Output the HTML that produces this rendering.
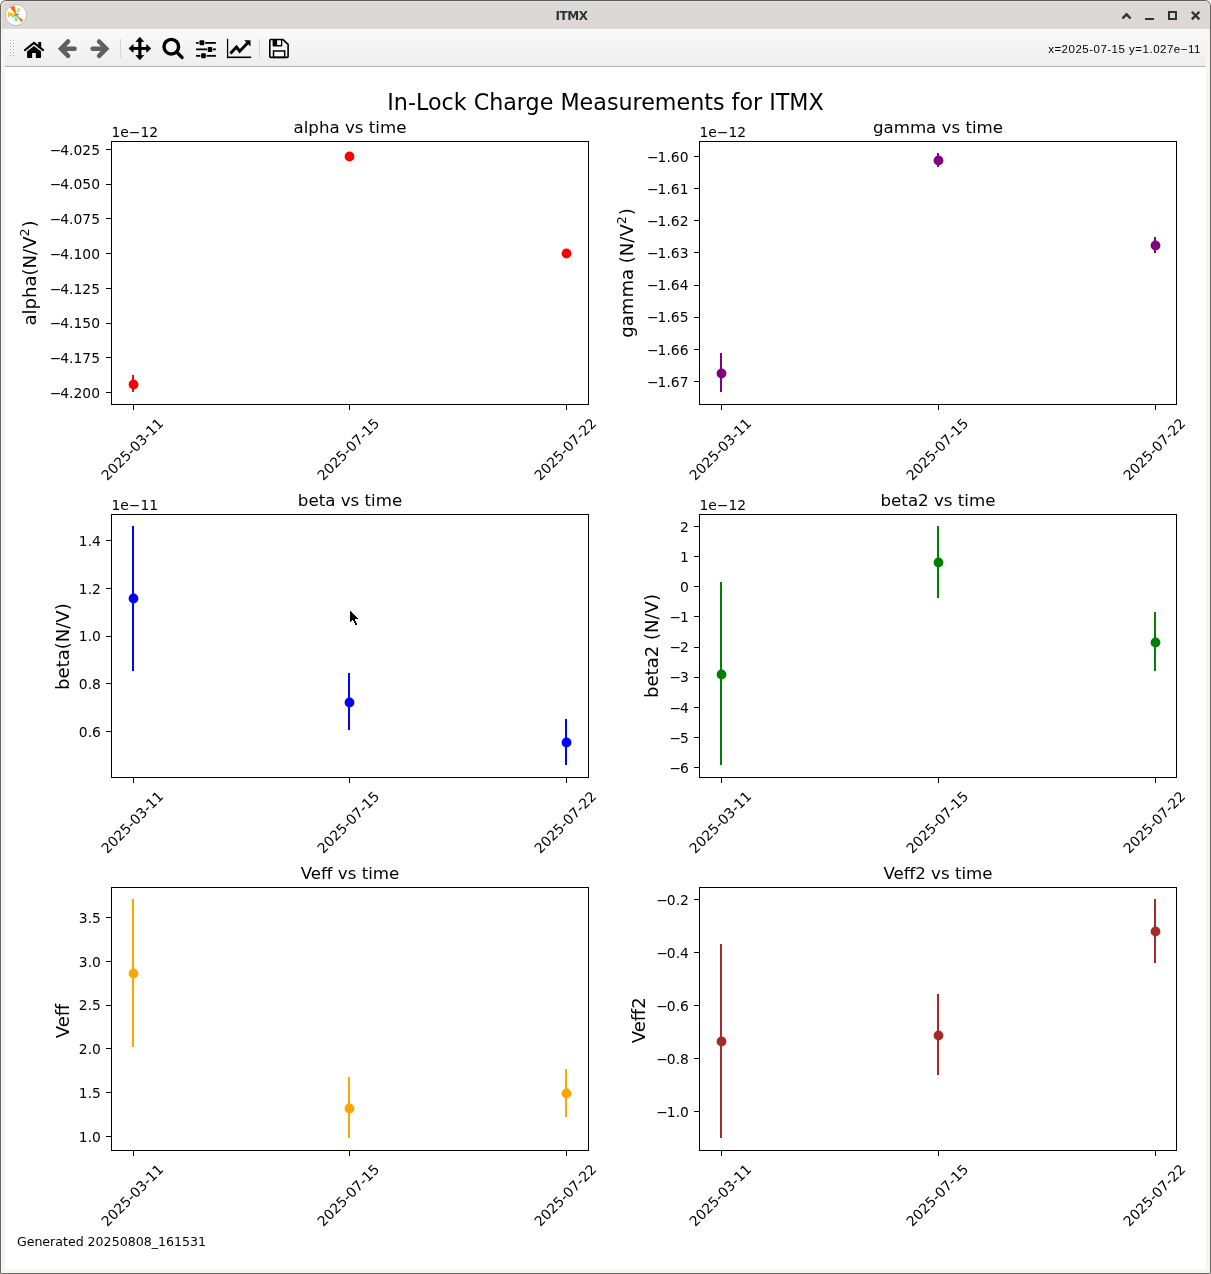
<!DOCTYPE html>
<html><head><meta charset="utf-8"><title>ITMX</title>
<style>
html,body{margin:0;padding:0;background:#fff;}
body{width:1211px;height:1274px;position:relative;overflow:hidden;font-family:"DejaVu Sans", "Liberation Sans", sans-serif;}
#win{position:absolute;left:0;top:0;width:1209px;height:1272px;border:1px solid #656462;border-color:#5e5d5b #656462 #6b6b69 #656462;border-radius:6px 6px 1.5px 1.5px;background:#f6f5f4;overflow:hidden;}
#tb{position:absolute;left:0;top:0;width:100%;height:28px;background:#dbd8d5;box-shadow:inset 1px 1px 0 rgba(255,255,255,0.3);border-radius:5px 5px 0 0;}
#ttl{position:absolute;left:0;top:0;width:1141px;text-align:center;line-height:31px;font-size:12px;font-weight:bold;color:#2e3436;letter-spacing:-0.5px;}
#bar{position:absolute;left:4px;top:28px;width:1201px;height:37px;background:linear-gradient(#fafafa,#eeeeee);border-bottom:1px solid #b4b4b4;}
#cv{position:absolute;left:4px;top:66px;width:1201px;height:1202px;background:#fff;}
#coord{position:absolute;right:10.1px;top:42.4px;font-family:"Liberation Sans","DejaVu Sans",sans-serif;font-size:11.5px;letter-spacing:0.5px;color:#000;white-space:nowrap;line-height:14px;}
</style></head><body>
<div id="win">
<div id="tb"></div><div id="ttl">ITMX</div>
<div id="bar"></div>
<div id="cv"></div>
</div>
<div id="coord">x=2025-07-15 y=1.027e−11</div>
<svg width="1211" height="70" viewBox="0 0 1211 70" style="position:absolute;left:0;top:0">
<!-- app icon -->
<g>
<circle cx="16.05" cy="15" r="10.6" fill="#fff" stroke="#b9b7b5" stroke-width="0.9"/>
<path d="M16.1,14.7 L10.3,7.4 L14.2,5.9 Z" fill="#ff6600" stroke="#e0701c" stroke-width="0.5" stroke-linejoin="round"/>
<path d="M16.1,14.7 L8.0,12.0 L8.0,16.7 Z" fill="#ffc800" stroke="#e0b41c" stroke-width="0.5" stroke-linejoin="round"/>
<path d="M16.1,14.7 L18.3,8.2 L20.2,9.2 Z" fill="#b4ee2c" stroke="#a4d040" stroke-width="0.4" stroke-linejoin="round"/>
<path d="M16.1,14.7 L14.7,20.7 L17.0,20.7 Z" fill="#6ee070" stroke="#70cc74" stroke-width="0.4" stroke-linejoin="round"/>
<path d="M16.1,14.7 L21.2,21.8 L23.1,20.6 Z" fill="#ff6600" stroke="#e0701c" stroke-width="0.4" stroke-linejoin="round"/>
<path d="M16.1,14.7 L12.0,16.8 L12.7,17.8 Z" fill="#4fc4b4" stroke="#4fc4b4" stroke-width="0.4" stroke-linejoin="round"/>
<path d="M16.1,14.7 L18.8,14.0 L18.8,14.9 Z" fill="#5f6fc4" stroke="#5f6fc4" stroke-width="0.4" stroke-linejoin="round"/><circle cx="16.1" cy="14.8" r="0.9" fill="#6f7040" opacity="0.75"/>
</g>
<!-- window controls -->
<g fill="none" stroke="#2e3436" stroke-width="2">
<path d="M1122.4,18.5 L1126.5,14.3 L1130.6,18.5" stroke-width="2.4"/>
<path d="M1145,19 H1154"/>
<rect x="1169" y="12" width="7" height="7"/>
<path d="M1191.8,11.8 L1199.4,19.4 M1199.4,11.8 L1191.8,19.4" stroke-width="2.3"/>
</g>
<!-- toolbar handle dots -->
<g fill="#b0b0b0">
<rect x="10" y="40" width="1" height="1"/><rect x="13" y="40" width="1" height="1"/><rect x="10" y="43" width="1" height="1"/><rect x="13" y="43" width="1" height="1"/><rect x="10" y="46" width="1" height="1"/><rect x="13" y="46" width="1" height="1"/><rect x="10" y="49" width="1" height="1"/><rect x="13" y="49" width="1" height="1"/><rect x="10" y="52" width="1" height="1"/><rect x="13" y="52" width="1" height="1"/><rect x="10" y="55" width="1" height="1"/><rect x="13" y="55" width="1" height="1"/>
</g>
<!-- home -->
<g fill="#000">
<path d="M24.9,50.1 L34,42.9 L43.1,50.1" fill="none" stroke="#000" stroke-width="2" stroke-linecap="round" stroke-linejoin="miter"/>
<rect x="38.2" y="42" width="3" height="6"/>
<path d="M34,45.9 L41.05,51.4 V57.3 a0.6,0.6 0 0 1 -0.6,0.6 H35.85 V53.1 H32.15 V57.9 H27.66 a0.6,0.6 0 0 1 -0.6,-0.6 V51.4 Z"/>
</g>
<!-- back / forward -->
<g fill="none" stroke="#5f5f5f" stroke-width="4.5" stroke-linecap="round" stroke-linejoin="miter">
<path d="M68.1,41.5 L61,48.65 L68.1,55.8"/>
<path d="M62,48.65 H74.6"/>
<path d="M99.1,41.5 L106.2,48.65 L99.1,55.8"/>
<path d="M105.2,48.65 H92.6"/>
</g>
<!-- separators -->
<rect x="120" y="39" width="1" height="19" fill="#d4d4d4"/>
<rect x="259" y="39" width="1" height="19" fill="#d4d4d4"/>
<!-- move -->
<g fill="#000" stroke="#000" stroke-width="0.8" stroke-linejoin="round">
<rect x="138.3" y="40" width="3.1" height="17" stroke="none"/>
<rect x="131" y="47" width="18" height="2.9" stroke="none"/>
<path d="M139.86,37.3 L143.6,41.5 H136.1 Z"/>
<path d="M139.86,59.7 L143.6,55.5 H136.1 Z"/>
<path d="M128.9,48.45 L133.1,44.7 V52.2 Z"/>
<path d="M150.9,48.45 L146.7,44.7 V52.2 Z"/>
</g>
<!-- zoom -->
<g fill="none" stroke="#000">
<circle cx="171.3" cy="46.7" r="7.3" stroke-width="3.4"/>
<path d="M176.6,52 L182.1,57.5" stroke-width="3.2" stroke-linecap="round"/>
</g>
<!-- sliders -->
<g fill="#000">
<rect x="196.1" y="42" width="2.6" height="1.8"/><rect x="205.1" y="42" width="10.8" height="1.8"/>
<rect x="199.5" y="40.35" width="4.8" height="5" rx="1"/>
<rect x="196.1" y="48.45" width="10.8" height="1.8"/><rect x="213" y="48.45" width="2.9" height="1.8"/>
<rect x="207.7" y="46.95" width="4.6" height="5" rx="1"/>
<rect x="196.1" y="54.95" width="4.2" height="1.8"/><rect x="206.7" y="54.95" width="9.2" height="1.8"/>
<rect x="201.1" y="53.3" width="4.8" height="5" rx="1"/>
</g>
<!-- chart -->
<g fill="#000">
<rect x="226.95" y="38.8" width="1.25" height="19.3"/>
<rect x="226.9" y="56.5" width="24.2" height="1.6"/>
<path d="M230.4,53.5 L236.5,47 L239.7,51.2 L247.6,43" fill="none" stroke="#000" stroke-width="2.9" stroke-linejoin="miter"/>
<path d="M244.2,40.3 H250.5 V46.4 Z"/>
</g>
<!-- save -->
<g>
<path d="M270.7,39.55 H283 L288.1,44.4 V56.5 a0.9,0.9 0 0 1 -0.9,0.9 H270.7 a0.9,0.9 0 0 1 -0.9,-0.9 V40.45 a0.9,0.9 0 0 1 0.9,-0.9 Z" fill="#f6f6f6" stroke="#000" stroke-width="1.6" stroke-linejoin="round"/>
<path d="M272.6,39.4 H282.3 V45.8 a0.8,0.8 0 0 1 -0.8,0.8 H273.4 a0.8,0.8 0 0 1 -0.8,-0.8 Z" fill="#000"/>
<rect x="277.1" y="40.2" width="3.9" height="4.9" rx="0.5" fill="#f6f6f6"/>
<rect x="273.5" y="51" width="11.2" height="6.4" fill="none" stroke="#000" stroke-width="1.5"/>
</g>
</svg>

<svg width="1211" height="1274" viewBox="0 0 1211 1274" style="position:absolute;left:0;top:0" font-family='"DejaVu Sans", "Liberation Sans", sans-serif' fill="#000">
<text x="605.5" y="109.6" font-size="22.222" text-anchor="middle">In-Lock Charge Measurements for ITMX</text>
<rect x="132.0" y="375" width="2" height="17" fill="#ff0000" shape-rendering="crispEdges"/>
<circle cx="133.5" cy="384.5" r="4.9" fill="#ff0000"/>
<circle cx="349.5" cy="156.5" r="4.9" fill="#ff0000"/>
<circle cx="566.5" cy="253.5" r="4.9" fill="#ff0000"/>
<rect x="111.5" y="141.5" width="477.0" height="263.0" fill="none" stroke="#000" stroke-width="1" shape-rendering="crispEdges"/>
<line x1="133.5" y1="404.5" x2="133.5" y2="409.8" stroke="#000" stroke-width="1" shape-rendering="crispEdges"/>
<text transform="translate(132.2,449.1) rotate(-45)" x="0" y="5.06" font-size="13.889" text-anchor="middle">2025-03-11</text>
<line x1="349.5" y1="404.5" x2="349.5" y2="409.8" stroke="#000" stroke-width="1" shape-rendering="crispEdges"/>
<text transform="translate(348.2,449.1) rotate(-45)" x="0" y="5.06" font-size="13.889" text-anchor="middle">2025-07-15</text>
<line x1="566.5" y1="404.5" x2="566.5" y2="409.8" stroke="#000" stroke-width="1" shape-rendering="crispEdges"/>
<text transform="translate(565.2,449.1) rotate(-45)" x="0" y="5.06" font-size="13.889" text-anchor="middle">2025-07-22</text>
<line x1="106.0" y1="149.5" x2="111.5" y2="149.5" stroke="#000" stroke-width="1" shape-rendering="crispEdges"/>
<text x="100" y="154.78" font-size="13.889" text-anchor="end">−<tspan dx="-1.15">4.025</tspan></text>
<line x1="106.0" y1="184.5" x2="111.5" y2="184.5" stroke="#000" stroke-width="1" shape-rendering="crispEdges"/>
<text x="100" y="189.49" font-size="13.889" text-anchor="end">−<tspan dx="-1.15">4.050</tspan></text>
<line x1="106.0" y1="218.5" x2="111.5" y2="218.5" stroke="#000" stroke-width="1" shape-rendering="crispEdges"/>
<text x="100" y="224.21" font-size="13.889" text-anchor="end">−<tspan dx="-1.15">4.075</tspan></text>
<line x1="106.0" y1="253.5" x2="111.5" y2="253.5" stroke="#000" stroke-width="1" shape-rendering="crispEdges"/>
<text x="100" y="258.92" font-size="13.889" text-anchor="end">−<tspan dx="-1.15">4.100</tspan></text>
<line x1="106.0" y1="288.5" x2="111.5" y2="288.5" stroke="#000" stroke-width="1" shape-rendering="crispEdges"/>
<text x="100" y="293.64" font-size="13.889" text-anchor="end">−<tspan dx="-1.15">4.125</tspan></text>
<line x1="106.0" y1="323.5" x2="111.5" y2="323.5" stroke="#000" stroke-width="1" shape-rendering="crispEdges"/>
<text x="100" y="328.35" font-size="13.889" text-anchor="end">−<tspan dx="-1.15">4.150</tspan></text>
<line x1="106.0" y1="357.5" x2="111.5" y2="357.5" stroke="#000" stroke-width="1" shape-rendering="crispEdges"/>
<text x="100" y="363.07" font-size="13.889" text-anchor="end">−<tspan dx="-1.15">4.175</tspan></text>
<line x1="106.0" y1="392.5" x2="111.5" y2="392.5" stroke="#000" stroke-width="1" shape-rendering="crispEdges"/>
<text x="100" y="397.78" font-size="13.889" text-anchor="end">−<tspan dx="-1.15">4.200</tspan></text>
<text x="350" y="133.4" font-size="16.667" text-anchor="middle">alpha vs time</text>
<text x="111.5" y="136.8" font-size="13.889">1e−12</text>
<text transform="translate(36.3,273) rotate(-90)" font-size="18.056" text-anchor="middle">alpha(N/V<tspan dy="-7.4" font-size="12.64">2</tspan><tspan dy="7.4" dx="0.9">)</tspan></text>
<rect x="720.0" y="353" width="2" height="39" fill="#800080" shape-rendering="crispEdges"/>
<circle cx="721.5" cy="373.5" r="4.9" fill="#800080"/>
<rect x="937.0" y="153" width="2" height="14" fill="#800080" shape-rendering="crispEdges"/>
<circle cx="938.5" cy="160.5" r="4.9" fill="#800080"/>
<rect x="1154.0" y="237" width="2" height="16" fill="#800080" shape-rendering="crispEdges"/>
<circle cx="1155.5" cy="245.5" r="4.9" fill="#800080"/>
<rect x="699.5" y="141.5" width="477.0" height="263.0" fill="none" stroke="#000" stroke-width="1" shape-rendering="crispEdges"/>
<line x1="721.5" y1="404.5" x2="721.5" y2="409.8" stroke="#000" stroke-width="1" shape-rendering="crispEdges"/>
<text transform="translate(720.2,449.1) rotate(-45)" x="0" y="5.06" font-size="13.889" text-anchor="middle">2025-03-11</text>
<line x1="938.5" y1="404.5" x2="938.5" y2="409.8" stroke="#000" stroke-width="1" shape-rendering="crispEdges"/>
<text transform="translate(937.2,449.1) rotate(-45)" x="0" y="5.06" font-size="13.889" text-anchor="middle">2025-07-15</text>
<line x1="1155.5" y1="404.5" x2="1155.5" y2="409.8" stroke="#000" stroke-width="1" shape-rendering="crispEdges"/>
<text transform="translate(1154.2,449.1) rotate(-45)" x="0" y="5.06" font-size="13.889" text-anchor="middle">2025-07-22</text>
<line x1="694.0" y1="156.5" x2="699.5" y2="156.5" stroke="#000" stroke-width="1" shape-rendering="crispEdges"/>
<text x="688.5" y="161.78" font-size="13.889" text-anchor="end">−<tspan dx="-1.15">1.60</tspan></text>
<line x1="694.0" y1="188.5" x2="699.5" y2="188.5" stroke="#000" stroke-width="1" shape-rendering="crispEdges"/>
<text x="688.5" y="193.92" font-size="13.889" text-anchor="end">−<tspan dx="-1.15">1.61</tspan></text>
<line x1="694.0" y1="220.5" x2="699.5" y2="220.5" stroke="#000" stroke-width="1" shape-rendering="crispEdges"/>
<text x="688.5" y="226.07" font-size="13.889" text-anchor="end">−<tspan dx="-1.15">1.62</tspan></text>
<line x1="694.0" y1="252.5" x2="699.5" y2="252.5" stroke="#000" stroke-width="1" shape-rendering="crispEdges"/>
<text x="688.5" y="258.21" font-size="13.889" text-anchor="end">−<tspan dx="-1.15">1.63</tspan></text>
<line x1="694.0" y1="285.5" x2="699.5" y2="285.5" stroke="#000" stroke-width="1" shape-rendering="crispEdges"/>
<text x="688.5" y="290.35" font-size="13.889" text-anchor="end">−<tspan dx="-1.15">1.64</tspan></text>
<line x1="694.0" y1="317.5" x2="699.5" y2="317.5" stroke="#000" stroke-width="1" shape-rendering="crispEdges"/>
<text x="688.5" y="322.49" font-size="13.889" text-anchor="end">−<tspan dx="-1.15">1.65</tspan></text>
<line x1="694.0" y1="349.5" x2="699.5" y2="349.5" stroke="#000" stroke-width="1" shape-rendering="crispEdges"/>
<text x="688.5" y="354.64" font-size="13.889" text-anchor="end">−<tspan dx="-1.15">1.66</tspan></text>
<line x1="694.0" y1="381.5" x2="699.5" y2="381.5" stroke="#000" stroke-width="1" shape-rendering="crispEdges"/>
<text x="688.5" y="386.78" font-size="13.889" text-anchor="end">−<tspan dx="-1.15">1.67</tspan></text>
<text x="938" y="133.4" font-size="16.667" text-anchor="middle">gamma vs time</text>
<text x="699.5" y="136.8" font-size="13.889">1e−12</text>
<text transform="translate(632.9,273) rotate(-90)" font-size="18.056" text-anchor="middle">gamma (N/V<tspan dy="-7.4" font-size="12.64">2</tspan><tspan dy="7.4" dx="0.9">)</tspan></text>
<rect x="132.0" y="526" width="2" height="145" fill="#0000ff" shape-rendering="crispEdges"/>
<circle cx="133.5" cy="598.5" r="4.9" fill="#0000ff"/>
<rect x="348.0" y="673" width="2" height="57" fill="#0000ff" shape-rendering="crispEdges"/>
<circle cx="349.5" cy="702.5" r="4.9" fill="#0000ff"/>
<rect x="565.0" y="719" width="2" height="46" fill="#0000ff" shape-rendering="crispEdges"/>
<circle cx="566.5" cy="742.5" r="4.9" fill="#0000ff"/>
<rect x="111.5" y="514.5" width="477.0" height="263.0" fill="none" stroke="#000" stroke-width="1" shape-rendering="crispEdges"/>
<line x1="133.5" y1="777.5" x2="133.5" y2="782.8" stroke="#000" stroke-width="1" shape-rendering="crispEdges"/>
<text transform="translate(132.2,822.1) rotate(-45)" x="0" y="5.06" font-size="13.889" text-anchor="middle">2025-03-11</text>
<line x1="349.5" y1="777.5" x2="349.5" y2="782.8" stroke="#000" stroke-width="1" shape-rendering="crispEdges"/>
<text transform="translate(348.2,822.1) rotate(-45)" x="0" y="5.06" font-size="13.889" text-anchor="middle">2025-07-15</text>
<line x1="566.5" y1="777.5" x2="566.5" y2="782.8" stroke="#000" stroke-width="1" shape-rendering="crispEdges"/>
<text transform="translate(565.2,822.1) rotate(-45)" x="0" y="5.06" font-size="13.889" text-anchor="middle">2025-07-22</text>
<line x1="106.0" y1="540.5" x2="111.5" y2="540.5" stroke="#000" stroke-width="1" shape-rendering="crispEdges"/>
<text x="100.9" y="545.78" font-size="13.889" text-anchor="end">1.4</text>
<line x1="106.0" y1="588.5" x2="111.5" y2="588.5" stroke="#000" stroke-width="1" shape-rendering="crispEdges"/>
<text x="100.9" y="593.53" font-size="13.889" text-anchor="end">1.2</text>
<line x1="106.0" y1="636.5" x2="111.5" y2="636.5" stroke="#000" stroke-width="1" shape-rendering="crispEdges"/>
<text x="100.9" y="641.28" font-size="13.889" text-anchor="end">1.0</text>
<line x1="106.0" y1="683.5" x2="111.5" y2="683.5" stroke="#000" stroke-width="1" shape-rendering="crispEdges"/>
<text x="100.9" y="689.03" font-size="13.889" text-anchor="end">0.8</text>
<line x1="106.0" y1="731.5" x2="111.5" y2="731.5" stroke="#000" stroke-width="1" shape-rendering="crispEdges"/>
<text x="100.9" y="736.78" font-size="13.889" text-anchor="end">0.6</text>
<text x="350" y="506.4" font-size="16.667" text-anchor="middle">beta vs time</text>
<text x="111.5" y="509.8" font-size="13.889">1e−11</text>
<text transform="translate(68.9,646.6) rotate(-90)" font-size="18.056" text-anchor="middle">beta(N/V)</text>
<rect x="720.0" y="582" width="2" height="183" fill="#008000" shape-rendering="crispEdges"/>
<circle cx="721.5" cy="674.5" r="4.9" fill="#008000"/>
<rect x="937.0" y="526" width="2" height="72" fill="#008000" shape-rendering="crispEdges"/>
<circle cx="938.5" cy="562.5" r="4.9" fill="#008000"/>
<rect x="1154.0" y="612" width="2" height="59" fill="#008000" shape-rendering="crispEdges"/>
<circle cx="1155.5" cy="642.5" r="4.9" fill="#008000"/>
<rect x="699.5" y="514.5" width="477.0" height="263.0" fill="none" stroke="#000" stroke-width="1" shape-rendering="crispEdges"/>
<line x1="721.5" y1="777.5" x2="721.5" y2="782.8" stroke="#000" stroke-width="1" shape-rendering="crispEdges"/>
<text transform="translate(720.2,822.1) rotate(-45)" x="0" y="5.06" font-size="13.889" text-anchor="middle">2025-03-11</text>
<line x1="938.5" y1="777.5" x2="938.5" y2="782.8" stroke="#000" stroke-width="1" shape-rendering="crispEdges"/>
<text transform="translate(937.2,822.1) rotate(-45)" x="0" y="5.06" font-size="13.889" text-anchor="middle">2025-07-15</text>
<line x1="1155.5" y1="777.5" x2="1155.5" y2="782.8" stroke="#000" stroke-width="1" shape-rendering="crispEdges"/>
<text transform="translate(1154.2,822.1) rotate(-45)" x="0" y="5.06" font-size="13.889" text-anchor="middle">2025-07-22</text>
<line x1="694.0" y1="526.5" x2="699.5" y2="526.5" stroke="#000" stroke-width="1" shape-rendering="crispEdges"/>
<text x="688.9" y="531.78" font-size="13.889" text-anchor="end">2</text>
<line x1="694.0" y1="556.5" x2="699.5" y2="556.5" stroke="#000" stroke-width="1" shape-rendering="crispEdges"/>
<text x="688.9" y="561.9" font-size="13.889" text-anchor="end">1</text>
<line x1="694.0" y1="586.5" x2="699.5" y2="586.5" stroke="#000" stroke-width="1" shape-rendering="crispEdges"/>
<text x="688.9" y="592.03" font-size="13.889" text-anchor="end">0</text>
<line x1="694.0" y1="616.5" x2="699.5" y2="616.5" stroke="#000" stroke-width="1" shape-rendering="crispEdges"/>
<text x="688.9" y="622.15" font-size="13.889" text-anchor="end">−<tspan dx="-1.15">1</tspan></text>
<line x1="694.0" y1="647.5" x2="699.5" y2="647.5" stroke="#000" stroke-width="1" shape-rendering="crispEdges"/>
<text x="688.9" y="652.28" font-size="13.889" text-anchor="end">−<tspan dx="-1.15">2</tspan></text>
<line x1="694.0" y1="677.5" x2="699.5" y2="677.5" stroke="#000" stroke-width="1" shape-rendering="crispEdges"/>
<text x="688.9" y="682.4" font-size="13.889" text-anchor="end">−<tspan dx="-1.15">3</tspan></text>
<line x1="694.0" y1="707.5" x2="699.5" y2="707.5" stroke="#000" stroke-width="1" shape-rendering="crispEdges"/>
<text x="688.9" y="712.53" font-size="13.889" text-anchor="end">−<tspan dx="-1.15">4</tspan></text>
<line x1="694.0" y1="737.5" x2="699.5" y2="737.5" stroke="#000" stroke-width="1" shape-rendering="crispEdges"/>
<text x="688.9" y="742.65" font-size="13.889" text-anchor="end">−<tspan dx="-1.15">5</tspan></text>
<line x1="694.0" y1="767.5" x2="699.5" y2="767.5" stroke="#000" stroke-width="1" shape-rendering="crispEdges"/>
<text x="688.9" y="772.78" font-size="13.889" text-anchor="end">−<tspan dx="-1.15">6</tspan></text>
<text x="938" y="506.4" font-size="16.667" text-anchor="middle">beta2 vs time</text>
<text x="699.5" y="509.8" font-size="13.889">1e−12</text>
<text transform="translate(658.1,646) rotate(-90)" font-size="18.056" text-anchor="middle">beta2 (N/V)</text>
<rect x="132.0" y="899" width="2" height="148" fill="#ffa500" shape-rendering="crispEdges"/>
<circle cx="133.5" cy="973.5" r="4.9" fill="#ffa500"/>
<rect x="348.0" y="1077" width="2" height="61" fill="#ffa500" shape-rendering="crispEdges"/>
<circle cx="349.5" cy="1108.5" r="4.9" fill="#ffa500"/>
<rect x="565.0" y="1069" width="2" height="48" fill="#ffa500" shape-rendering="crispEdges"/>
<circle cx="566.5" cy="1093.5" r="4.9" fill="#ffa500"/>
<rect x="111.5" y="887.5" width="477.0" height="263.0" fill="none" stroke="#000" stroke-width="1" shape-rendering="crispEdges"/>
<line x1="133.5" y1="1150.5" x2="133.5" y2="1155.8" stroke="#000" stroke-width="1" shape-rendering="crispEdges"/>
<text transform="translate(132.2,1195.1) rotate(-45)" x="0" y="5.06" font-size="13.889" text-anchor="middle">2025-03-11</text>
<line x1="349.5" y1="1150.5" x2="349.5" y2="1155.8" stroke="#000" stroke-width="1" shape-rendering="crispEdges"/>
<text transform="translate(348.2,1195.1) rotate(-45)" x="0" y="5.06" font-size="13.889" text-anchor="middle">2025-07-15</text>
<line x1="566.5" y1="1150.5" x2="566.5" y2="1155.8" stroke="#000" stroke-width="1" shape-rendering="crispEdges"/>
<text transform="translate(565.2,1195.1) rotate(-45)" x="0" y="5.06" font-size="13.889" text-anchor="middle">2025-07-22</text>
<line x1="106.0" y1="917.5" x2="111.5" y2="917.5" stroke="#000" stroke-width="1" shape-rendering="crispEdges"/>
<text x="100.9" y="922.78" font-size="13.889" text-anchor="end">3.5</text>
<line x1="106.0" y1="961.5" x2="111.5" y2="961.5" stroke="#000" stroke-width="1" shape-rendering="crispEdges"/>
<text x="100.9" y="966.58" font-size="13.889" text-anchor="end">3.0</text>
<line x1="106.0" y1="1005.5" x2="111.5" y2="1005.5" stroke="#000" stroke-width="1" shape-rendering="crispEdges"/>
<text x="100.9" y="1010.38" font-size="13.889" text-anchor="end">2.5</text>
<line x1="106.0" y1="1048.5" x2="111.5" y2="1048.5" stroke="#000" stroke-width="1" shape-rendering="crispEdges"/>
<text x="100.9" y="1054.18" font-size="13.889" text-anchor="end">2.0</text>
<line x1="106.0" y1="1092.5" x2="111.5" y2="1092.5" stroke="#000" stroke-width="1" shape-rendering="crispEdges"/>
<text x="100.9" y="1097.98" font-size="13.889" text-anchor="end">1.5</text>
<line x1="106.0" y1="1136.5" x2="111.5" y2="1136.5" stroke="#000" stroke-width="1" shape-rendering="crispEdges"/>
<text x="100.9" y="1141.78" font-size="13.889" text-anchor="end">1.0</text>
<text x="350" y="879.4" font-size="16.667" text-anchor="middle">Veff vs time</text>
<text transform="translate(69,1021) rotate(-90)" font-size="18.056" text-anchor="middle">Veff</text>
<rect x="720.0" y="944" width="2" height="194" fill="#a52a2a" shape-rendering="crispEdges"/>
<circle cx="721.5" cy="1041.5" r="4.9" fill="#a52a2a"/>
<rect x="937.0" y="994" width="2" height="81" fill="#a52a2a" shape-rendering="crispEdges"/>
<circle cx="938.5" cy="1035.5" r="4.9" fill="#a52a2a"/>
<rect x="1154.0" y="899" width="2" height="64" fill="#a52a2a" shape-rendering="crispEdges"/>
<circle cx="1155.5" cy="931.5" r="4.9" fill="#a52a2a"/>
<rect x="699.5" y="887.5" width="477.0" height="263.0" fill="none" stroke="#000" stroke-width="1" shape-rendering="crispEdges"/>
<line x1="721.5" y1="1150.5" x2="721.5" y2="1155.8" stroke="#000" stroke-width="1" shape-rendering="crispEdges"/>
<text transform="translate(720.2,1195.1) rotate(-45)" x="0" y="5.06" font-size="13.889" text-anchor="middle">2025-03-11</text>
<line x1="938.5" y1="1150.5" x2="938.5" y2="1155.8" stroke="#000" stroke-width="1" shape-rendering="crispEdges"/>
<text transform="translate(937.2,1195.1) rotate(-45)" x="0" y="5.06" font-size="13.889" text-anchor="middle">2025-07-15</text>
<line x1="1155.5" y1="1150.5" x2="1155.5" y2="1155.8" stroke="#000" stroke-width="1" shape-rendering="crispEdges"/>
<text transform="translate(1154.2,1195.1) rotate(-45)" x="0" y="5.06" font-size="13.889" text-anchor="middle">2025-07-22</text>
<line x1="694.0" y1="899.5" x2="699.5" y2="899.5" stroke="#000" stroke-width="1" shape-rendering="crispEdges"/>
<text x="688.9" y="904.78" font-size="13.889" text-anchor="end">−<tspan dx="-1.15">0.2</tspan></text>
<line x1="694.0" y1="952.5" x2="699.5" y2="952.5" stroke="#000" stroke-width="1" shape-rendering="crispEdges"/>
<text x="688.9" y="957.78" font-size="13.889" text-anchor="end">−<tspan dx="-1.15">0.4</tspan></text>
<line x1="694.0" y1="1005.5" x2="699.5" y2="1005.5" stroke="#000" stroke-width="1" shape-rendering="crispEdges"/>
<text x="688.9" y="1010.78" font-size="13.889" text-anchor="end">−<tspan dx="-1.15">0.6</tspan></text>
<line x1="694.0" y1="1058.5" x2="699.5" y2="1058.5" stroke="#000" stroke-width="1" shape-rendering="crispEdges"/>
<text x="688.9" y="1063.78" font-size="13.889" text-anchor="end">−<tspan dx="-1.15">0.8</tspan></text>
<line x1="694.0" y1="1111.5" x2="699.5" y2="1111.5" stroke="#000" stroke-width="1" shape-rendering="crispEdges"/>
<text x="688.9" y="1116.78" font-size="13.889" text-anchor="end">−<tspan dx="-1.15">1.0</tspan></text>
<text x="938" y="879.4" font-size="16.667" text-anchor="middle">Veff2 vs time</text>
<text transform="translate(645,1020.3) rotate(-90)" font-size="18.056" text-anchor="middle">Veff2</text>
<text x="16.9" y="1245.7" font-size="12.58">Generated 20250808_161531</text>
<path d="M350,611h1v1h-1zM350,612h2v1h-2zM350,613h3v1h-3zM350,614h4v1h-4zM350,615h5v1h-5zM350,616h6v1h-6zM350,617h7v1h-7zM350,618h8v1h-8zM350,619h5v1h-5zM350,620h2v1h-2zM353,620h2v1h-2zM350,621h1v1h-1zM354,621h2v1h-2zM354,622h2v1h-2zM355,623h2v1h-2zM355,624h2v1h-2z" fill="#000" shape-rendering="crispEdges"/>
</svg>
</body></html>
